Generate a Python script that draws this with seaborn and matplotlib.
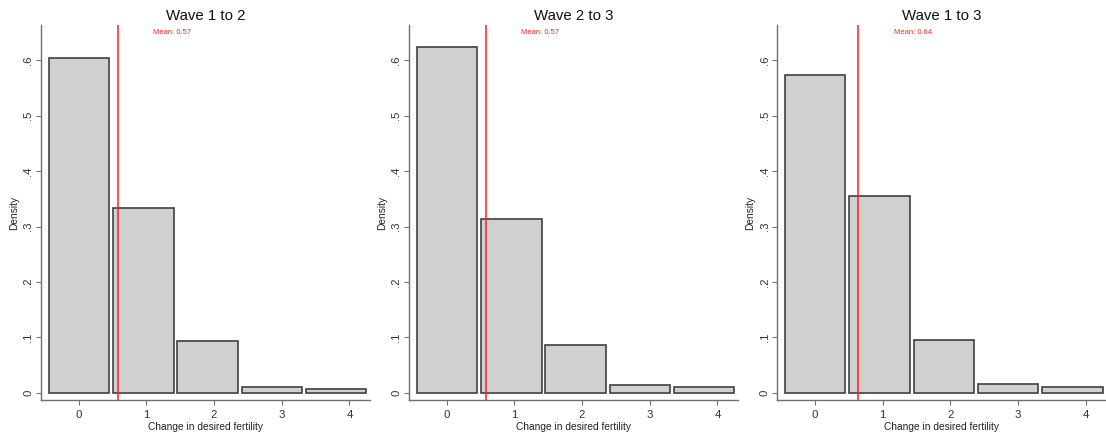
import numpy as np
import pandas as pd
import matplotlib
matplotlib.use("Agg")
import matplotlib.pyplot as plt
import seaborn as sns

# Data (density per bin)
titles = ["Wave 1 to 2", "Wave 2 to 3", "Wave 1 to 3"]
bin_centers = [0.005, 0.955, 1.905, 2.855, 3.805]
bin_edges = [-0.47, 0.48, 1.43, 2.38, 3.33, 4.28]
density_w12 = [0.605, 0.333, 0.093, 0.0096, 0.0072]
density_w23 = [0.625, 0.313, 0.086, 0.0137, 0.0101]
density_w13 = [0.573, 0.355, 0.0944, 0.0162, 0.0101]
mean_values = [0.575, 0.578, 0.643]
mean_labels = ["Mean: 0.57", "Mean: 0.57", "Mean: 0.64"]
x_ticks = [0, 1, 2, 3, 4]
y_ticks = [0, 0.1, 0.2, 0.3, 0.4, 0.5, 0.6]
y_tick_labels = ["0", ".1", ".2", ".3", ".4", ".5", ".6"]

sns.set_style("white")
plt.rcParams["font.family"] = ["Liberation Sans", "DejaVu Sans"]

fig = plt.figure(figsize=(11.06, 4.37), dpi=100)
lefts = [0.0371, 0.3698, 0.7028]
axis_color = "#707070"

for i, (title, dens) in enumerate(zip(titles, [density_w12, density_w23, density_w13])):
    ax = fig.add_axes([lefts[i], 0.0847, 0.2972, 0.857])
    df = pd.DataFrame({"change": bin_centers, "density": dens})
    sns.histplot(
        data=df,
        x="change",
        weights="density",
        bins=bin_edges,
        shrink=0.94,
        color="#d0d0d0",
        alpha=1,
        edgecolor="#404040",
        linewidth=1.2,
        ax=ax,
    )
    ax.axvline(mean_values[i], color="#ff2020", linewidth=1.1)
    ax.text(mean_values[i] + 0.52, 0.65, mean_labels[i], color="#ff2020",
            fontsize=5.5, ha="left", va="center")

    ax.set_xlim(-0.556, 4.3)
    ax.set_ylim(-0.013, 0.663)
    ax.set_xticks(x_ticks)
    ax.set_yticks(y_ticks)
    ax.set_yticklabels(y_tick_labels, rotation=90, va="center")
    ax.tick_params(axis="both", bottom=True, left=True, direction="out",
                   length=3.5, width=0.8, color=axis_color, labelsize=8.2,
                   pad=2, labelcolor="#333333")
    ax.tick_params(axis="x", pad=4)
    ax.set_xlabel("Change in desired fertility", fontsize=7.3, labelpad=1, color="#222222")
    ax.set_ylabel("Density", fontsize=7.3, labelpad=3, color="#222222")
    ax.set_title(title, fontsize=10.8, pad=4, color="#111111")

    sns.despine(ax=ax)
    for side in ["left", "bottom"]:
        ax.spines[side].set_color(axis_color)
        ax.spines[side].set_linewidth(1.0)

plt.savefig("out.png", dpi=100)
plt.close()
